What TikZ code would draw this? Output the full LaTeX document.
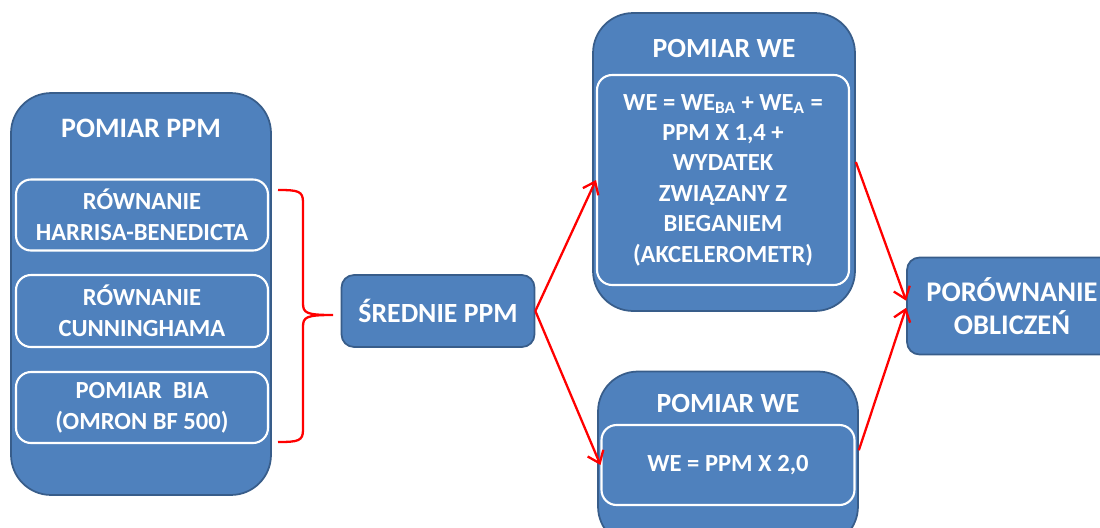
\documentclass[tikz,border=0pt]{standalone}
\usepackage{fontspec}
\setmainfont{Carlito}
\usepackage{xcolor}
\usetikzlibrary{arrows.meta}

\definecolor{boxblue}{HTML}{4F81BD}
\definecolor{boxline}{HTML}{385D8A}

\begin{document}
\begin{tikzpicture}[x=0.02cm, y=-0.02cm,
    font=\bfseries, text=white,
    outer/.style={rectangle, rounded corners=0.8cm, fill=boxblue, draw=boxline, line width=1pt},
    inner/.style={rectangle, rounded corners=0.3cm, draw=white, line width=1.2pt, align=center},
    small/.style={rectangle, rounded corners=0.25cm, fill=boxblue, draw=boxline, line width=1pt, align=center},
    link/.style={draw=red, line width=1.3pt, -{Straight Barb[length=2.2mm, width=3.4mm]}},
    brace/.style={draw=red, line width=1.3pt}]

  \useasboundingbox (0,0) rectangle (1100,528);

  % pomiar PPM
  \node[outer, minimum width=5.2cm, minimum height=8.04cm] (ppm) at (141,294) {};
  \node[font=\bfseries\fontsize{16}{18}\selectfont] (ppmt) at (141,128) {POMIAR PPM};
  \node[inner, minimum width=5.04cm, minimum height=1.42cm, font=\bfseries\fontsize{14}{17.6}\selectfont] (hb) at (142,215)
    {RÓWNANIE\\HARRISA-BENEDICTA};
  \node[inner, minimum width=5.04cm, minimum height=1.44cm, font=\bfseries\fontsize{14}{17.6}\selectfont] (cun) at (142,311)
    {RÓWNANIE\\CUNNINGHAMA};
  \node[inner, minimum width=5.04cm, minimum height=1.42cm, font=\bfseries\fontsize{14}{17.6}\selectfont] (bia) at (142,407.5)
    {POMIAR\ \ BIA\\(OMRON BF 500)};

  % klamra
  \coordinate (bt) at (278,190);
  \coordinate (bb) at (278,442);
  \coordinate (btip) at (333,315);
  \draw[brace] (bt) .. controls (298,190) and (303,191) .. (303,202) -- (303,303)
    .. controls (303,313) and (306,315) .. (btip)
    .. controls (306,315) and (303,317) .. (303,327) -- (303,430)
    .. controls (303,441) and (298,442) .. (bb);

  % srednie PPM
  \node[small, minimum width=3.86cm, minimum height=1.44cm, font=\bfseries\fontsize{15.8}{18}\selectfont] (sr) at (438,311)
    {ŚREDNIE PPM};

  % pomiar WE (gora)
  \node[outer, minimum width=5.24cm, minimum height=5.96cm] (wea) at (724,162) {};
  \node[font=\bfseries\fontsize{15.8}{18}\selectfont] (weat) at (724,48) {POMIAR WE};
  \node[inner, minimum width=5.04cm, minimum height=4.2cm, font=\bfseries\fontsize{14}{17.3}\selectfont] (weain) at (723,180)
    {WE = WE\textsubscript{BA} + WE\textsubscript{A} =\\PPM X 1,4 +\\WYDATEK\\ZWIĄZANY Z\\BIEGANIEM\\(AKCELEROMETR)};

  % pomiar WE (dol)
  \node[outer, minimum width=5.2cm, minimum height=3.5cm] (web) at (728,459) {};
  \node[font=\bfseries\fontsize{15.8}{18}\selectfont] (webt) at (728,403) {POMIAR WE};
  \node[inner, minimum width=5.06cm, minimum height=1.6cm, font=\bfseries\fontsize{14}{16}\selectfont] (webin) at (728,465)
    {WE = PPM X 2,0};

  % porownanie
  \node[small, minimum width=4.2cm, minimum height=1.94cm] (por) at (1012,306) {};
  \node[font=\bfseries\fontsize{16.2}{18.5}\selectfont, align=center] (port) at (1012,306) {PORÓWNANIE\\OBLICZEŃ};

  % strzalki
  \draw[link] (sr.east) -- (weain.west);
  \draw[link] (sr.east) -- (webin.west);
  \draw[link] (wea.east) -- ([yshift=3pt]por.west);
  \draw[link] ([yshift=5pt]web.east) -- ([yshift=-1pt]por.west);

\end{tikzpicture}
\end{document}
